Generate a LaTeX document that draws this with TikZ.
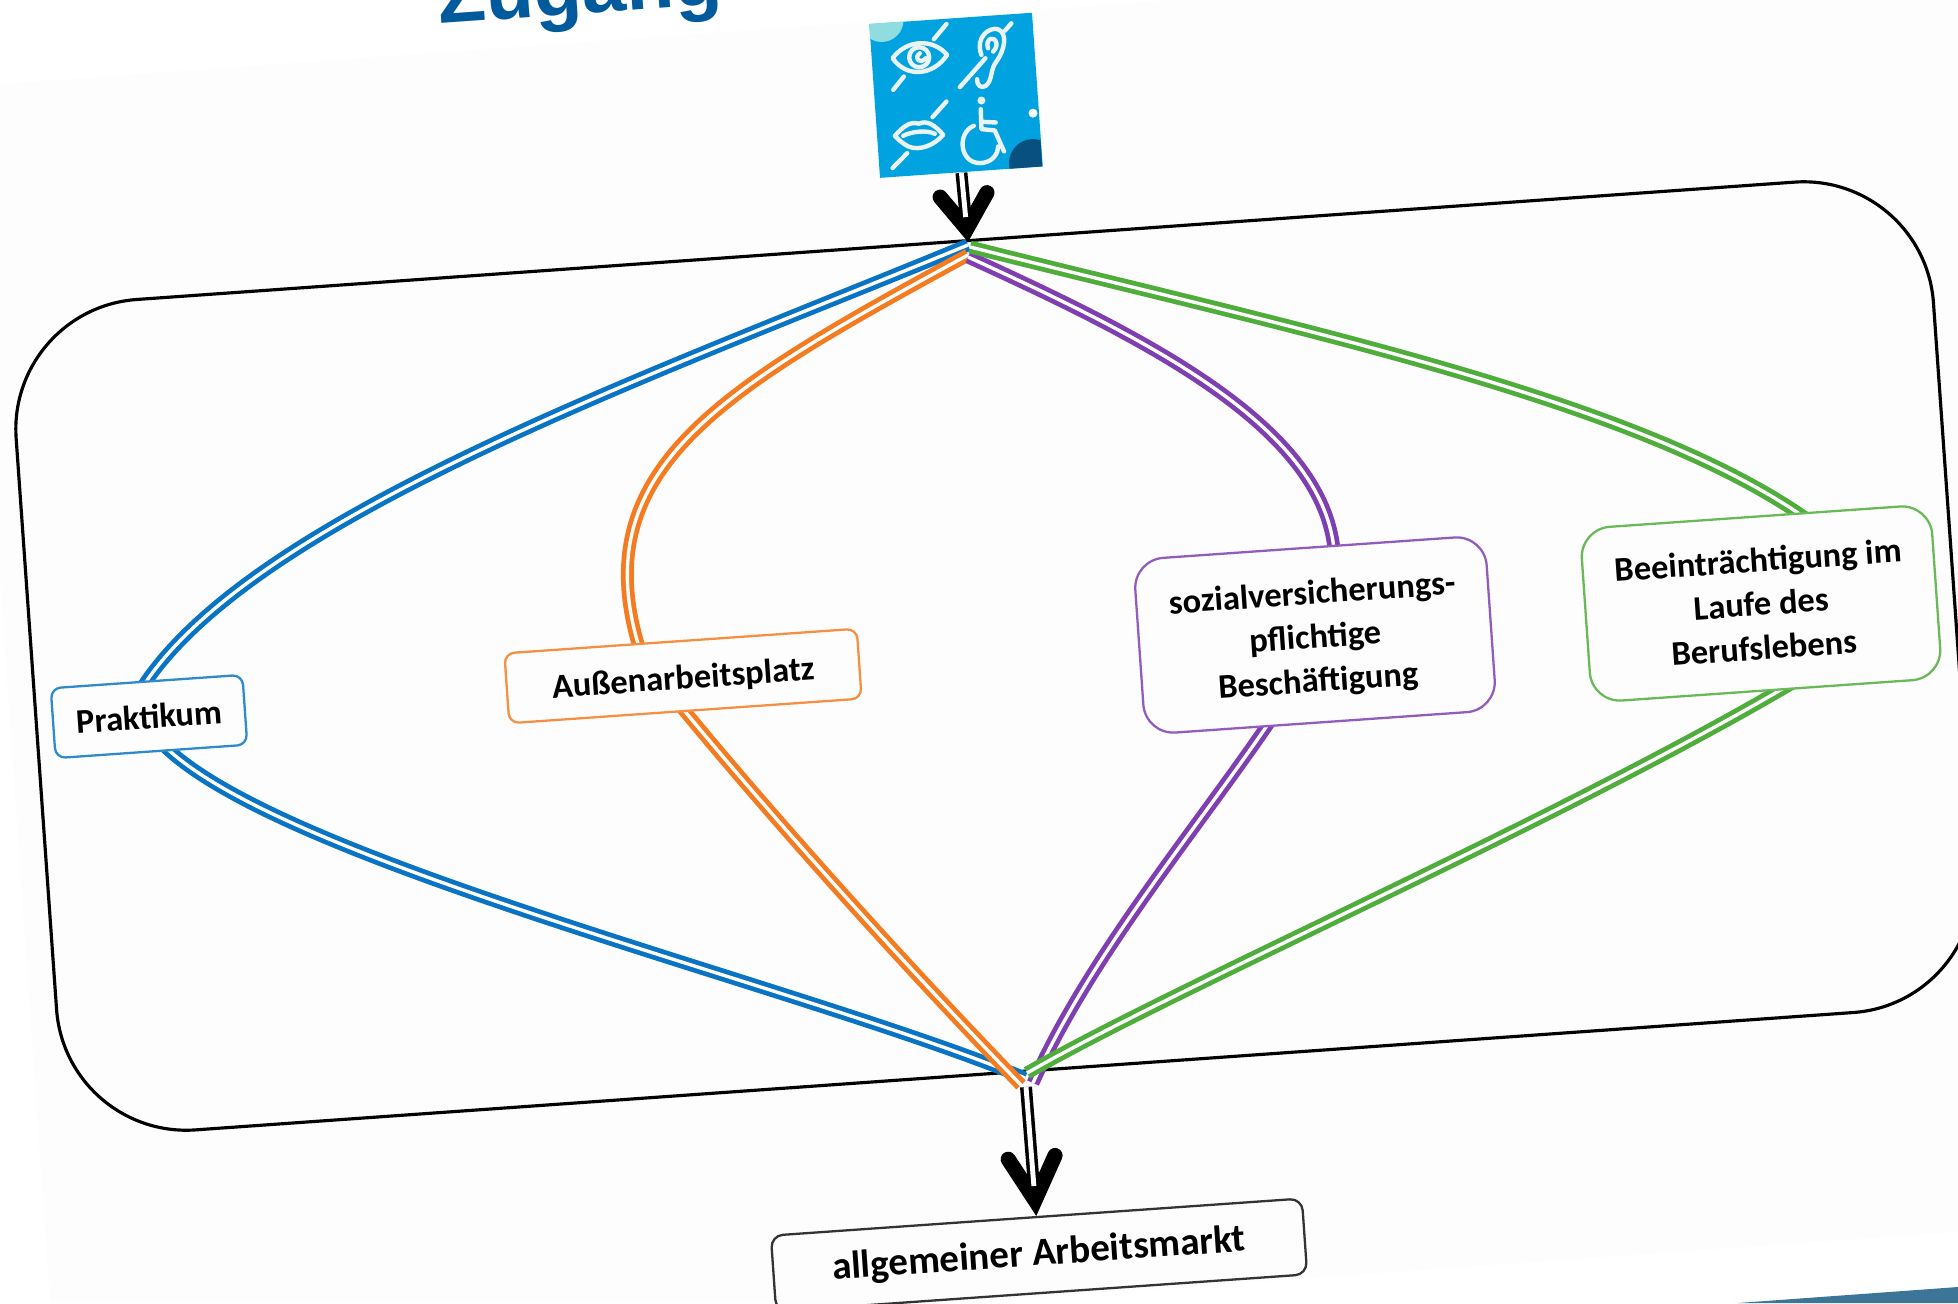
\documentclass[tikz,border=0pt]{standalone}
\usepackage{fontspec}
\setmainfont{Carlito}
\newfontfamily\titlefont{Liberation Sans}
\usetikzlibrary{arrows.meta}
\pgfdeclarelayer{lines}
\pgfsetlayers{lines,main}
\definecolor{pagebg}{HTML}{FDFDFD}
\definecolor{titleblue}{HTML}{005A9C}
\definecolor{iconblue}{HTML}{00A3E0}
\definecolor{iconteal}{HTML}{8FDDE0}
\definecolor{icondark}{HTML}{08507F}
\definecolor{iconwhite}{HTML}{EAF4F6}
\definecolor{footblue}{HTML}{3C7596}
\definecolor{lineblue}{HTML}{0A74C4}
\definecolor{lineorange}{HTML}{F47B20}
\definecolor{linepurple}{HTML}{7F3FB0}
\definecolor{linegreen}{HTML}{4FAD3C}
\tikzset{
  boxnode/.style={draw,rotate=4,fill=pagebg,align=center,inner sep=0pt,line width=0.65pt,
    font=\fontsize{9.8}{12.5}\selectfont\bfseries},
  pathline/.style={line width=1.35pt,double=white,double distance=0.95pt},
  intobox/.style={shorten >=-4pt},
  frombox/.style={shorten <=-4pt},
  blackline/.style={draw=black,line width=1pt,double=white,double distance=1.4pt},
  tipline/.style={line width=0.4pt,-{Straight Barb[length=#1,width=0.47cm,line width=4.3pt,line cap=round,line join=miter]}},
  iconline/.style={draw=iconwhite,line width=1.25pt,line cap=round,line join=round},
}
\begin{document}
\begin{tikzpicture}[x=0.01cm,y=-0.01cm]
  \useasboundingbox (0,0) rectangle (1958,1303);
  \clip (0,0) rectangle (1958,1303);
  \node[anchor=base west,rotate=4,inner sep=0pt,text=titleblue,
    font=\titlefont\fontsize{22.4}{22.4}\selectfont\bfseries] (titel) at (439,24){Zugang};
  % hubs
  \coordinate (hubblue) at (968,245);
  \coordinate (huborange) at (968,255);
  \coordinate (hubpurple) at (968,257);
  \coordinate (hubgreen) at (970,247);
  \coordinate (footblue) at (1025,1078);
  \coordinate (footorange) at (1021,1085);
  \coordinate (footpurple) at (1033,1083);
  \coordinate (footgreen) at (1027,1073);
  \coordinate (hubtop) at (968,242);
  \coordinate (hubbottom) at (1026,1087);
  % stations
  \node[boxnode,draw=lineblue!85!white,rounded corners=0.1cm,
    minimum width=1.92cm,minimum height=0.7cm] (praktikum) at (149,716.5){Praktikum};
  \node[boxnode,draw=lineorange!85!white,rounded corners=0.1cm,
    minimum width=3.53cm,minimum height=0.7cm] (aussen) at (683,676){\rule{0pt}{9pt}Außenarbeitsplatz};
  \node[boxnode,draw=linepurple!85!white,rounded corners=0.3cm,
    minimum width=3.52cm,minimum height=1.75cm] (sozial) at (1315,635)
    {\rule{0pt}{9pt}sozialversicherungs-\\pflichtige\\Beschäftigung};
  \node[boxnode,draw=linegreen!85!white,rounded corners=0.3cm,
    minimum width=3.51cm,minimum height=1.74cm] (beruf) at (1761,603.5)
    {Beeinträchtigung im\\Laufe des\\Berufslebens};
  \node[boxnode,draw=black!80,rounded corners=0.12cm,font=\fontsize{11.1}{13}\selectfont\bfseries,
    minimum width=5.32cm,minimum height=0.76cm] (markt) at (1039,1255)
    {allgemeiner Arbeitsmarkt};
  % icon square
  \node[rotate=4,fill=iconblue,inner sep=0pt,minimum width=1.63cm,minimum height=1.54cm]
    (icon) at (956,95.3){};
  \begin{pgfonlayer}{lines}
    % slide background
    \fill[pagebg] (0,578) -- (50,1303) -- (958,1303) -- (1958,1232) -- (1958,0)
      -- (1170,0) -- (0,84) -- cycle;
    \fill[footblue] (1738,1303) -- (1958,1287) -- (1958,1303) -- cycle;
    % big frame
    \node[draw,rotate=4.05,line width=0.9pt,rounded corners=1.3cm,
      minimum width=19.21cm,minimum height=8.32cm] (rahmen) at (995,656){};
    % paths through the frame
    \draw[pathline,intobox,draw=lineblue] (hubblue) .. controls (640,380) and (245,520) .. (praktikum.north);
    \draw[pathline,frombox,draw=lineblue] (praktikum.296) .. controls (270,860) and (800,985) .. (footblue);
    \draw[pathline,intobox,draw=lineorange] (huborange) .. controls (720,390) and (580,470) .. (aussen.140);
    \draw[pathline,frombox,draw=lineorange] (aussen.south) .. controls (770,815) and (900,960) .. (footorange);
    \draw[pathline,intobox,draw=linepurple] (hubpurple) .. controls (1150,340) and (1330,430) .. (sozial.74);
    \draw[pathline,frombox,draw=linepurple] (sozial.238) .. controls (1200,825) and (1090,955) .. (footpurple);
    \draw[pathline,intobox,draw=linegreen] (hubgreen) .. controls (1300,330) and (1640,400) .. (beruf.64);
    \draw[pathline,frombox,draw=linegreen] (beruf.278) .. controls (1560,820) and (1180,985) .. (footgreen);
    % arrows
    \draw[tipline=0.34cm] (icon.south) -- (hubtop);
    \draw[blackline,shorten >=0.25cm] (icon.south) -- (hubtop);
    \draw[tipline=0.43cm] (hubbottom) -- (markt.north);
    \draw[blackline,shorten >=0.3cm] (hubbottom) -- (markt.north);
  \end{pgfonlayer}
  % icon drawing
  \begin{scope}[shift={(820,0)},x=0.00333cm,y=-0.00333cm]
    \begin{scope}
      \clip (148,72) -- (637,38) -- (668,500) -- (180,535) -- cycle;
      \fill[iconteal] (185,60) circle (0.22cm);
      \fill[icondark] (640,490) circle (0.24cm);
    \end{scope}
    \fill[white] (640,340) circle (0.045cm);
    % eye
    \draw[iconline] (218,175) .. controls (260,118) and (340,115) .. (382,165)
      .. controls (340,228) and (260,235) .. cycle;
    \draw[iconline] (298,172) circle (0.1cm);
    \draw[iconline] (300,160) .. controls (280,175) and (300,195) .. (318,175);
    \draw[iconline] (380,72) -- (342,118);
    \draw[iconline] (252,230) -- (220,270);
    % ear
    \draw[iconline] (485,165) .. controls (465,110) and (510,80) .. (535,88)
      .. controls (565,100) and (555,150) .. (530,185)
      .. controls (510,210) and (520,240) .. (498,258)
      .. controls (485,268) and (470,255) .. (472,238);
    \draw[iconline] (505,145) .. controls (495,115) and (525,105) .. (530,130)
      .. controls (532,140) and (525,150) .. (520,155);
    \draw[iconline] (575,70) -- (556,92);
    \draw[iconline] (497,175) -- (420,262);
    % lips
    \draw[iconline] (225,408) .. controls (245,385) and (270,362) .. (297,372)
      .. controls (320,360) and (345,375) .. (370,405)
      .. controls (345,435) and (300,455) .. (265,440)
      .. controls (250,432) and (235,420) .. cycle;
    \draw[iconline] (250,408) .. controls (275,395) and (320,390) .. (345,402);
    \draw[iconline] (380,305) -- (338,352);
    \draw[iconline] (262,460) -- (218,505);
    % wheelchair
    \fill[iconwhite] (485,302) circle (0.04cm);
    \draw[iconline] (483,328) -- (485,388) -- (525,392) -- (553,455);
    \draw[iconline] (485,366) -- (528,368);
    \draw[iconline] (462,378) .. controls (410,400) and (420,490) .. (480,490)
      .. controls (515,490) and (535,465) .. (535,440);
  \end{scope}
\end{tikzpicture}
\end{document}
